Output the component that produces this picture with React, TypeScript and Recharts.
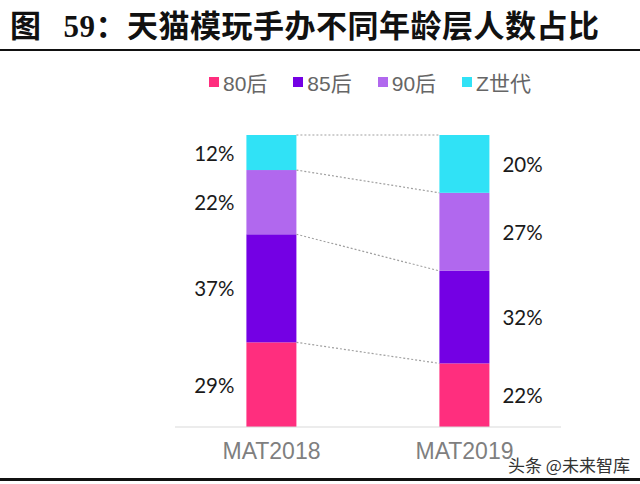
import React from "react";
import { BarChart, Bar, XAxis, YAxis, Legend, LabelList } from "recharts";

const periods = ["MAT2018", "MAT2019"];
const gen80 = [29, 22];
const gen85 = [37, 32];
const gen90 = [22, 27];
const genZ = [12, 20];
const seriesNames = ["80后", "85后", "90后", "Z世代"];
const seriesColors = ["#FF2E7E", "#7400E4", "#B168EE", "#30E2F6"];

const series = [
  { key: "gen80", values: gen80 },
  { key: "gen85", values: gen85 },
  { key: "gen90", values: gen90 },
  { key: "genZ", values: genZ },
].map((s, i) => ({ ...s, name: seriesNames[i], color: seriesColors[i] }));

const data = periods.map((period, i) => {
  const row: Record<string, string | number> = { period };
  series.forEach((s) => (row[s.key] = s.values[i]));
  return row;
});

const totals = periods.map((_, i) => series.reduce((a, s) => a + s.values[i], 0));
const cumTop = (sIdx: number, i: number) =>
  series.slice(0, sIdx + 1).reduce((a, s) => a + s.values[i], 0) / totals[i];

const W = 640;
const H = 484;
const margin = { top: 135, right: 79, bottom: 27, left: 175 };
const bandSize = (W - margin.left - margin.right) / periods.length;

const labelFont = "Lato, 'Open Sans', 'Noto Sans', sans-serif";
const latinFont = "'Liberation Sans', Arial, 'Noto Sans CJK SC', sans-serif";

// segment rect + dotted link to the same boundary in the next bar
const makeShape = (sIdx: number) => (props: any) => {
  const x = Number(props.x);
  const y = Number(props.y);
  const width = Number(props.width);
  const height = Number(props.height);
  const index = props.index;
  const frac = series[sIdx].values[index] / totals[index];
  let link = null;
  if (index === 0 && frac > 0 && periods.length > 1) {
    const fullH = height / frac;
    const bottom = y + cumTop(sIdx, 0) * fullH;
    const y2 = bottom - cumTop(sIdx, 1) * fullH;
    link = (
      <line
        x1={x + width}
        y1={y}
        x2={x + bandSize}
        y2={y2}
        stroke="#a0a0a0"
        strokeWidth={1.2}
        strokeDasharray="2 2"
      />
    );
  }
  return (
    <g>
      <rect x={x} y={y} width={width} height={height} fill={props.fill} />
      {link}
    </g>
  );
};

const makeLabel = (sIdx: number) => (props: any) => {
  const x = Number(props.x);
  const y = Number(props.y);
  const width = Number(props.width);
  const height = Number(props.height);
  const index = props.index;
  const left = index === 0;
  return (
    <text
      x={left ? x - 12 : x + width + 13}
      y={y + height / 2}
      textAnchor={left ? "end" : "start"}
      dominantBaseline="central"
      fontSize={20.5}
      fontFamily={labelFont}
      fill="#1a1a1a"
    >
      {series[sIdx].values[index]}%
    </text>
  );
};

const renderLegend = () => (
  <div style={{ display: "flex", alignItems: "center", fontFamily: latinFont, fontSize: 21, color: "#666" }}>
    {series.map((s) => (
      <div key={s.key} style={{ display: "flex", alignItems: "center", marginRight: 26 }}>
        <span style={{ width: 10, height: 10, background: s.color, marginRight: 4, display: "inline-block" }} />
        <span>{s.name}</span>
      </div>
    ))}
  </div>
);

export default function App() {
  return (
    <div style={{ position: "relative", width: W, height: H, background: "#fff", overflow: "hidden" }}>
      <style>{"body{margin:0}"}</style>
      <div
        style={{
          position: "absolute",
          left: 10,
          top: 7,
          fontSize: 31,
          fontWeight: 700,
          lineHeight: "40px",
          letterSpacing: 0.5,
          whiteSpace: "nowrap",
          color: "#111",
          fontFamily: "'Liberation Serif', 'Noto Sans CJK SC', serif",
        }}
      >
        图<span style={{ marginLeft: 22 }}>59：</span>天猫模玩手办不同年龄层人数占比
      </div>
      <div style={{ position: "absolute", left: 0, top: 49, width: W, height: 2, background: "#111" }} />
      <BarChart width={W} height={H} data={data} margin={margin} stackOffset="expand" barCategoryGap="37%">
        <XAxis
          dataKey="period"
          axisLine={{ stroke: "#d9d9d9" }}
          tickLine={false}
          tickSize={6}
          tickMargin={10}
          height={30}
          tick={{ fill: "#7f7f7f", fontSize: 23, fontFamily: latinFont }}
        />
        <YAxis hide domain={[0, 1]} />
        <Legend
          layout="horizontal"
          verticalAlign="middle"
          align="center"
          content={renderLegend}
          wrapperStyle={{ top: 67, left: 209, width: "auto", height: 28 }}
        />
        {series.map((s, i) => (
          <Bar
            key={s.key}
            dataKey={s.key}
            name={s.name}
            stackId="a"
            fill={s.color}
            shape={makeShape(i)}
            isAnimationActive={false}
          >
            <LabelList dataKey={s.key} content={makeLabel(i)} />
          </Bar>
        ))}
      </BarChart>
      <div
        style={{
          position: "absolute",
          left: 508,
          top: 452,
          fontSize: 17,
          color: "#333",
          whiteSpace: "nowrap",
          fontFamily: "'Noto Sans CJK SC', sans-serif",
        }}
      >
        头条 @未来智库
      </div>
      <div style={{ position: "absolute", left: 0, top: 478, width: W, height: 3, background: "#111" }} />
    </div>
  );
}
